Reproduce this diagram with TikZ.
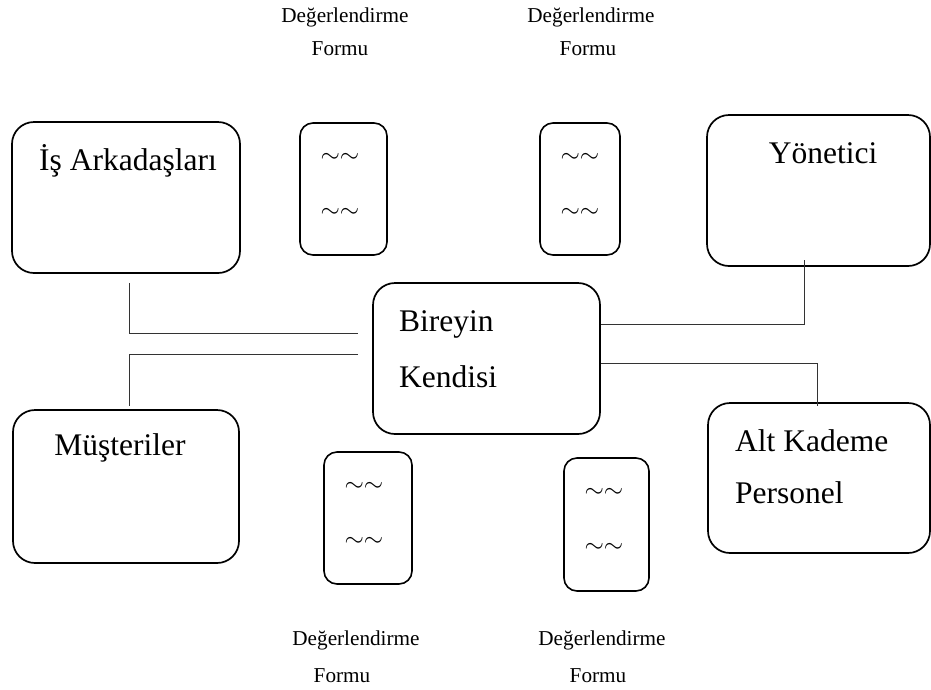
\documentclass[tikz,border=0pt]{standalone}
\usepackage{fontspec}
\setmainfont{Liberation Serif}
\usetikzlibrary{positioning,calc}

\begin{document}
\begin{tikzpicture}[x=1pt,y=-1pt,
  rater/.style={draw,line width=1.7pt,rounded corners=22pt,inner sep=0pt,minimum height=151pt},
  formbox/.style={draw,line width=1.6pt,rounded corners=13pt,inner sep=0pt,minimum height=132pt},
  bigtxt/.style={inner sep=0pt,font=\fontsize{31.5}{36}\selectfont},
  smalltxt/.style={inner sep=0pt,font=\fontsize{21.2}{25}\selectfont},
  squig/.style={inner sep=0pt,font=\fontsize{24.88}{30}\selectfont},
  link/.style={draw=black!80,line width=1pt}]
  \useasboundingbox (0,0) rectangle (931,689);

  % the raters
  \node[rater,minimum width=228pt] (isark) at (126,197.5) {};
  \node[rater,minimum width=223pt] (yonetici) at (818.5,190.5) {};
  \node[rater,minimum width=226pt,minimum height=153pt] (musteri) at (126,486.5) {};
  \node[rater,minimum width=222pt,minimum height=150pt] (altkad) at (819,478) {};
  \node[rater,minimum width=227pt] (birey) at (486.5,358.5) {};
  \node[bigtxt,anchor=base] (tisark) at (128,170) {İş Arkadaşları};
  \node[bigtxt,anchor=base] (tyon) at (823,163) {Yönetici};
  \node[bigtxt,anchor=base] (tmus) at (120,455) {Müşteriler};
  \node[bigtxt,anchor=base west] (tbirA) at (399,331) {Bireyin};
  \node[bigtxt,anchor=base west] (tbirB) at (399,387) {Kendisi};
  \node[bigtxt,anchor=base west] (taltA) at (735,451) {Alt Kademe};
  \node[bigtxt,anchor=base west] (taltB) at (735,503) {Personel};

  % the forms
  \node[formbox,minimum width=87pt] (formA) at (343.5,189) {};
  \node[formbox,minimum width=80pt] (formB) at (580,189) {};
  \node[formbox,minimum width=88pt] (formC) at (368,518) {};
  \node[formbox,minimum width=85pt,minimum height=133pt] (formD) at (606.5,524.5) {};
  \node[squig] (sqA1) at (340,158) {$\sim\sim$};
  \node[squig] (sqA2) at (340,213) {$\sim\sim$};
  \node[squig] (sqB1) at (580,158) {$\sim\sim$};
  \node[squig] (sqB2) at (580,213) {$\sim\sim$};
  \node[squig] (sqC1) at (364,487) {$\sim\sim$};
  \node[squig] (sqC2) at (364,542) {$\sim\sim$};
  \node[squig] (sqD1) at (604,493) {$\sim\sim$};
  \node[squig] (sqD2) at (604,548) {$\sim\sim$};

  \node[smalltxt,anchor=base] (labA1) at (345,22) {Değerlendirme};
  \node[smalltxt,anchor=base] (labA2) at (340,55) {Formu};
  \node[smalltxt,anchor=base] (labB1) at (591,22) {Değerlendirme};
  \node[smalltxt,anchor=base] (labB2) at (588,55) {Formu};
  \node[smalltxt,anchor=base] (labC1) at (356,645) {Değerlendirme};
  \node[smalltxt,anchor=base] (labC2) at (342,682) {Formu};
  \node[smalltxt,anchor=base] (labD1) at (602,645) {Değerlendirme};
  \node[smalltxt,anchor=base] (labD2) at (598,682) {Formu};

  % connectors
  \draw[link,shorten <=9pt,shorten >=14pt] ([xshift=3pt]isark.south) |- ([yshift=25.5pt]birey.west);
  \draw[link,shorten <=14pt,shorten >=3pt] ([yshift=4.5pt]birey.west) -| ([xshift=3pt]musteri.north);
  \draw[link,shorten >=-7pt] ([yshift=34.5pt]birey.east) -| ([xshift=-14.5pt]yonetici.south);
  \draw[link,shorten >=-4pt] ([yshift=-4.5pt]birey.east) -| ([xshift=-2pt]altkad.north);
\end{tikzpicture}
\end{document}
